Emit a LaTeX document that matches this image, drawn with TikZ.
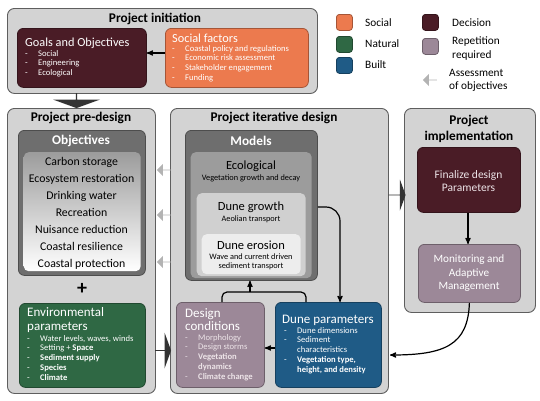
\documentclass[tikz,border=0pt]{standalone}
\usepackage{fontspec}
\setmainfont{Carlito}
\usepackage{tikz}
\usetikzlibrary{arrows,positioning,shapes.arrows}
\usepackage{xcolor}

\definecolor{panelgray}{HTML}{D3D3D3}
\definecolor{paneledge}{HTML}{5E5E5E}
\definecolor{maroon}{HTML}{4A1C26}
\definecolor{socialorange}{HTML}{EC7A4E}
\definecolor{natgreen}{HTML}{2F6844}
\definecolor{builtblue}{HTML}{1F5B86}
\definecolor{mauve}{HTML}{9C8898}
\definecolor{modelgray}{HTML}{6E6E6E}
\definecolor{ecogray}{HTML}{9C9C9C}
\definecolor{growthgray}{HTML}{D0D0D0}
\definecolor{erosiongray}{HTML}{EDEDED}
\definecolor{assessgray}{HTML}{B3B3B3}
\definecolor{softtext}{HTML}{EDE4E8}

\newcommand{\lidash}{\makebox[13pt][l]{-}}
\newcommand{\lisp}{\hspace*{13pt}}

\tikzset{
  panel/.style={draw=paneledge,fill=panelgray,line width=0.9pt,rounded corners=7pt,
    anchor=north west,inner sep=0pt},
  colbox/.style={draw=#1!70!black,fill=#1,line width=0.8pt,rounded corners=6pt,
    anchor=north west,inner sep=0pt},
  legbox/.style={colbox=#1,minimum width=16,minimum height=16,rounded corners=3pt},
  paneltitle/.style={font=\fontsize{13.3}{16}\selectfont\bfseries,align=center,inner sep=0pt},
  boxtitle/.style={font=\fontsize{13}{14.5}\selectfont,text=white,anchor=west,align=left,inner sep=0pt},
  itemlist/.style={font=\fontsize{8.6}{9.75}\selectfont,text=white,anchor=north west,align=left,inner sep=0pt},
  modeltext/.style={font=\fontsize{12.5}{13}\selectfont,align=center,inner sep=0pt},
  modelsub/.style={font=\fontsize{8.3}{9}\selectfont,align=center,inner sep=0pt},
  legtext/.style={font=\fontsize{11.3}{13.5}\selectfont,anchor=west,align=left,inner sep=0pt},
  bigarrow/.style={single arrow,fill=black!80,draw=none,inner sep=0pt,
    single arrow tip angle=140,single arrow head extend=8pt},
  assess/.style={single arrow,fill=assessgray,draw=none,inner sep=0pt,shape border rotate=180,
    minimum height=14,minimum width=12,single arrow head extend=3pt},
  link/.style={->,>=stealth',line width=1.2pt}
}

\begin{document}
\begin{tikzpicture}[x=1pt,y=-1pt]
\useasboundingbox (0,0) rectangle (540,400);
% panels
\node (init) [panel,minimum width=310,minimum height=85] at (7,8) {};
\node (pre) [panel,minimum width=148,minimum height=285] at (7,108) {};
\node (iter) [panel,minimum width=218,minimum height=285] at (170,108) {};
\node (impl) [panel,minimum width=131,minimum height=204] at (404,108) {};
%
\node (initT) [paneltitle] at (155,19) {Project initiation};
\node (preT) [paneltitle] at (81,118) {Project pre-design};
\node (iterT) [paneltitle] at (274,118) {Project iterative design};
\node (implT) [paneltitle] at (469,129) {Project\\implementation};

% project initiation
\node (goals) [colbox=maroon,minimum width=129,minimum height=59] at (17,28) {};
\node (goalsT) [boxtitle,font=\fontsize{12.3}{14}\selectfont] at (25,43) {Goals and Objectives};
\node (goalsL) [itemlist] at (25,50) {\lidash Social\\ \lidash Engineering\\ \lidash Ecological};
\node (social) [colbox=socialorange,minimum width=143,minimum height=59] at (165,28) {};
\node (socialT) [boxtitle,font=\fontsize{12.3}{14}\selectfont] at (172,38.5) {Social factors};
\node (socialL) [itemlist] at (172,45) {\lidash Coastal policy and regulations\\
  \lidash Economic risk assessment\\ \lidash Stakeholder engagement\\ \lidash Funding};
\draw[link] (social.west |- 0,53) -- (goals.east |- 0,53);

% legend
\node (lgS) [legbox=socialorange] at (336,14) {};
\node (lgN) [legbox=natgreen] at (336,36) {};
\node (lgB) [legbox=builtblue] at (336,57) {};
\node (lgD) [legbox=maroon] at (422,14) {};
\node (lgR) [legbox=mauve] at (422,38) {};
\node (lgA) [assess] at (430,80) {};
\node (lgST) [legtext] at (365,23) {Social};
\node (lgNT) [legtext] at (365,44) {Natural};
\node (lgBT) [legtext] at (365,65) {Built};
\node (lgDT) [legtext] at (452,23) {Decision};
\node (lgRT) [legtext] at (452,48.5) {Repetition\\required};
\node (lgAT) [legtext] at (449,80.5) {Assessment\\of objectives};

% pre-design
\node (objO) [colbox=modelgray,minimum width=127,minimum height=145] at (18,130) {};
\node (objOT) [paneltitle,text=white] at (81,141) {Objectives};
\node (objI) [anchor=north west,inner sep=0pt,rounded corners=5pt,top color=ecogray,bottom color=white,
  minimum width=117,minimum height=119] at (23.5,152) {};
\node (objL) [font=\fontsize{11.8}{17}\selectfont,align=center,anchor=north,inner sep=0pt] at (81.5,157)
  {Carbon storage\\ Ecosystem restoration\\ Drinking water\\ Recreation\\ Nuisance reduction\\
   Coastal resilience\\ Coastal protection};
\node (plus) [font=\fontsize{20}{20}\selectfont\bfseries,inner sep=0pt] at (82,289) {+};
\node (env) [colbox=natgreen,minimum width=126,minimum height=84] at (19,303) {};
\node (envT) [boxtitle,anchor=north west] at (27,307) {Environmental\\parameters};
\node (envL) [itemlist] at (27,335) {\lidash Water levels, waves, winds\\
  \lidash Setting + \textbf{Space}\\ \lidash \textbf{Sediment supply}\\
  \lidash \textbf{Species}\\ \lidash \textbf{Climate}};

% assessment arrows
\node (as1) [assess] at (164,170) {};
\node (as2) [assess] at (164,215) {};
\node (as3) [assess] at (164,262) {};

% iterative design
\node (models) [colbox=modelgray,minimum width=132,minimum height=150] at (185,130) {};
\node (modelsT) [paneltitle,text=white] at (251,141) {Models};
\node (eco) [anchor=north west,inner sep=0pt,rounded corners=5pt,fill=ecogray,
  minimum width=121,minimum height=126] at (190.5,152) {};
\node (ecoT) [modeltext] at (251,166) {Ecological};
\node (ecoS) [modelsub] at (251,178.5) {Vegetation growth and decay};
\node (growth) [anchor=north west,inner sep=0pt,rounded corners=5pt,fill=growthgray,
  minimum width=109,minimum height=83] at (196.5,193) {};
\node (growthT) [modeltext] at (251,207) {Dune growth};
\node (growthS) [modelsub] at (251,219) {Aeolian transport};
\node (erosion) [anchor=north west,inner sep=0pt,rounded corners=5pt,fill=erosiongray,
  minimum width=99,minimum height=40] at (201.5,234) {};
\node (erosionT) [modeltext] at (251,245) {Dune erosion};
\node (erosionS) [modelsub] at (251,261.5) {Wave and current driven\\sediment transport};
%
\node (design) [colbox=mauve,minimum width=88,minimum height=85] at (176,302) {};
\node (designT) [boxtitle,anchor=north west,font=\fontsize{13}{13}\selectfont] at (185,308) {Design\\conditions};
\node (designL) [itemlist,text=softtext] at (185,334) {\lidash Morphology\\ \lidash Design storms\\
  \lidash \textbf{Vegetation}\\ \lisp\textbf{dynamics}\\ \lidash \textbf{Climate change}};
\node (dunep) [colbox=builtblue,minimum width=106,minimum height=85] at (275,302) {};
\node (dunepT) [boxtitle] at (282,320) {Dune parameters};
\node (dunepL) [itemlist] at (284,327) {\lidash Dune dimensions\\ \lidash Sediment\\ \lisp characteristics\\
  \lidash \textbf{Vegetation type,}\\ \lisp\textbf{height, and density}};
%
\coordinate (gOut) at (models.east |- growthT);
\coordinate (dpIn) at (340,302);
\draw[link,rounded corners=14pt] (gOut) -| (dpIn);
\coordinate (brL) at (222,302);
\coordinate (brR) at (306,302);
\coordinate (brM) at (250,292);
\draw[line width=1.2pt,rounded corners=5pt] (brL) |- (brM) -| (brR);
\draw[link] (brM) -- (models.south -| brM);
\draw[link] (dunep.west |- 0,348) -- (design.east |- 0,348);

% implementation
\node (final) [colbox=maroon,minimum width=103,minimum height=65] at (417,147) {};
\node (finalT) [modeltext,text=softtext,font=\fontsize{11.5}{12.5}\selectfont] at (468.5,181) {Finalize design\\Parameters};
\node (monit) [colbox=mauve,minimum width=102,minimum height=58] at (418,244) {};
\node (monitT) [modeltext,text=white,font=\fontsize{11.2}{13.5}\selectfont] at (469,273.5) {Monitoring and\\Adaptive\\Management};
\draw[link] (final.south -| 468,0) -- (monit.north -| 468,0);
\coordinate (back) at (390,355);
\draw[link] (monit.south) .. controls (468,345) and (445,355) .. (back);

% big arrows
\node (go1) [bigarrow,rotate=-90,minimum height=15,minimum width=47] at (76.5,100.5) {};
\node (go2) [bigarrow,minimum height=16,minimum width=36] at (163,350.5) {};
\node (go3) [bigarrow,minimum height=17,minimum width=31] at (397,195) {};
\end{tikzpicture}
\end{document}
